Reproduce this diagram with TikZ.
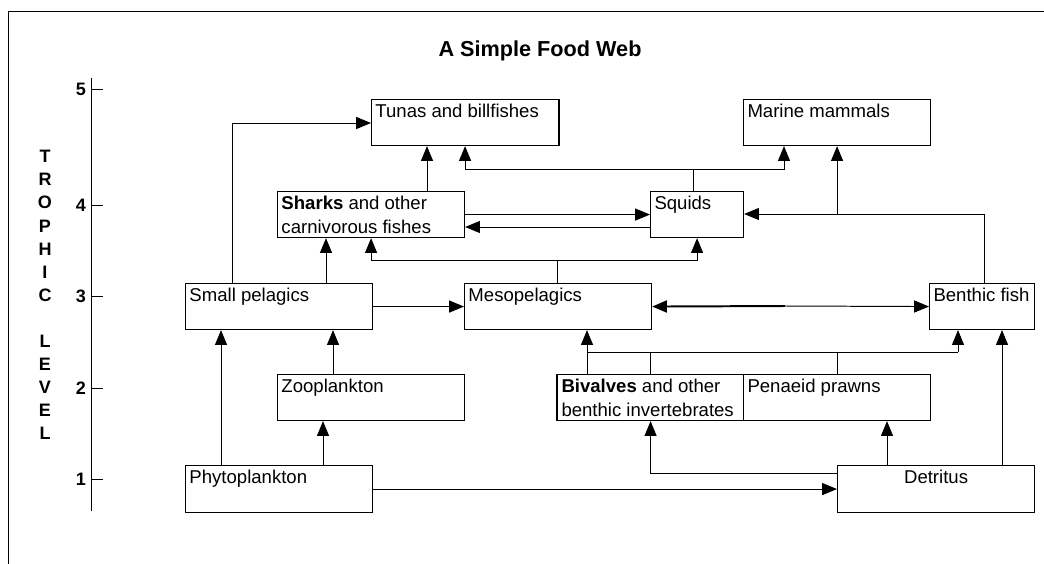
\documentclass[tikz,border=0pt]{standalone}
\usepackage{fontspec}
\setmainfont{Liberation Sans}
\usetikzlibrary{arrows.meta}
\newcommand{\px}{0.025cm}
\tikzset{
  box/.style={draw, line width=0.8pt, anchor=north west, inner sep=0pt, minimum height=46*\px},
  boxtext/.style={anchor=north west, inner xsep=4*\px, inner ysep=5*\px, align=left, font=\fontsize{13.2}{16.4}\selectfont},
  arr/.style={-{Triangle[length=0.37cm,width=0.3cm]}},
  lev/.style={font=\fontsize{12.8}{16.4}\selectfont\bfseries},
}

\begin{document}
\begin{tikzpicture}[x=\px, y=-\px, line width=0.7pt]
\useasboundingbox (0,0) rectangle (1044,564);
\draw (8,564) -- (8,11) -- (1044,11);
\node [font=\fontsize{15.4}{18}\selectfont\bfseries] (title) at (540,51) {A Simple Food Web};

\draw (91,78) -- (91,511);
\draw (103,89) -- (91,89) node (lv5) [lev, left] {5};
\draw (103,205) -- (91,205) node (lv4) [lev, left] {4};
\draw (103,296) -- (91,296) node (lv3) [lev, left] {3};
\draw (103,388) -- (91,388) node (lv2) [lev, left] {2};
\draw (103,479) -- (91,479) node (lv1) [lev, left] {1};
\node [lev, align=center] (trophic) at (45,295) {T\\R\\O\\P\\H\\I\\C\\[16.4pt]L\\E\\V\\E\\L};

\node [box, minimum width=187*\px, label={[boxtext]north west:Tunas and billfishes}] (tunas) at (371,99) {};
\node [box, minimum width=187*\px, label={[boxtext]north west:Marine mammals}] (mammals) at (743,99) {};
\node [box, minimum width=187*\px, label={[boxtext]north west:\textbf{Sharks} and other\\carnivorous fishes}] (sharks) at (277,191) {};
\node [box, minimum width=93*\px, label={[boxtext]north west:Squids}] (squids) at (650,191) {};
\node [box, minimum width=187*\px, label={[boxtext]north west:Small pelagics}] (smallpel) at (185,283) {};
\node [box, minimum width=187*\px, label={[boxtext]north west:Mesopelagics}] (meso) at (464,283) {};
\node [box, minimum width=105*\px, label={[boxtext]north west:Benthic fish}] (benthfish) at (929,283) {};
\node [box, minimum width=187*\px, label={[boxtext]north west:Zooplankton}] (zoo) at (277,374) {};
\node [box, minimum width=186*\px, label={[boxtext]north west:\textbf{Bivalves} and other\\benthic invertebrates}] (bivalves) at (557,374) {};
\node [box, minimum width=187*\px, label={[boxtext]north west:Penaeid prawns}] (prawns) at (743,374) {};
\node [box, minimum width=187*\px, minimum height=47*\px, label={[boxtext]north west:Phytoplankton}] (phyto) at (185,465) {};
\node [box, minimum width=197*\px, minimum height=47*\px, label={[boxtext, anchor=north]north:Detritus}] (detritus) at (837,465) {};
\draw [line width=1.5pt] (tunas.north east) -- (tunas.south east);
\draw [line width=1.5pt] (bivalves.north west) -- (bivalves.south west);

\coordinate (spc) at (232,123);
\coordinate (shx) at (427,0);
\coordinate (sqj) at (693,169);
\coordinate (sqm) at (784,169);
\coordinate (sql) at (650,227);
\coordinate (bfj) at (984,214);
\coordinate (mej) at (557,260);
\coordinate (spx) at (326,0);
\coordinate (mbj) at (785,306);
\coordinate (phx) at (221,0);
\coordinate (pzx) at (323,0);
\coordinate (zsx) at (333,0);
\coordinate (dtb) at (837,473);
\coordinate (dpx) at (887,0);
\coordinate (dbx) at (1002,0);
\coordinate (bvj) at (587,352);
\coordinate (bfa) at (958,352);

\draw [arr] (smallpel.north -| spc) -- (spc) -- (spc -| tunas.west);
\draw [arr] (sharks.north -| shx) -- (tunas.south -| shx);
\draw (squids.north -| sqj) -- (sqj);
\draw [arr] (sqj) -| (tunas.south);
\draw [arr] (sqj) -- (sqm) -- (sqm |- mammals.south);
\draw [arr] (sharks.east) -- (squids.west);
\draw [arr] (sql) -- (sql -| sharks.east);
\draw [arr] (benthfish.north -| bfj) -- (bfj) -- (bfj -| squids.east);
\draw [arr] (mammals.south |- bfj) -- (mammals.south);
\draw (meso.north -| mej) -- (mej);
\draw [arr] (mej) -| (sharks.south);
\draw [arr] (mej) -| (squids.south);
\draw [arr] (smallpel.north -| spx) -- (sharks.south -| spx);
\draw [arr] (smallpel) -- (meso);
\draw [arr, line width=1.4pt] (mbj) -- (meso.east);
\draw [arr] (mbj) -- (benthfish.west);
\draw [arr] (phyto.north -| phx) -- (smallpel.south -| phx);
\draw [arr] (phyto.north -| pzx) -- (zoo.south -| pzx);
\draw [arr] (zoo.north -| zsx) -- (smallpel.south -| zsx);
\draw [arr] (phyto) -- (detritus);
\draw [arr] (dtb) -| (bivalves.south);
\draw [arr] (detritus.north -| dpx) -- (prawns.south -| dpx);
\draw [arr] (detritus.north -| dbx) -- (benthfish.south -| dbx);
\draw [arr] (bivalves.north -| bvj) -- (meso.south -| bvj);
\draw (bvj) -- (bfa);
\draw [arr] (bfa) -- (bfa |- benthfish.south);
\draw (bivalves.north) -- (bivalves.north |- bvj);
\draw (prawns.north) -- (prawns.north |- bvj);
\end{tikzpicture}
\end{document}
